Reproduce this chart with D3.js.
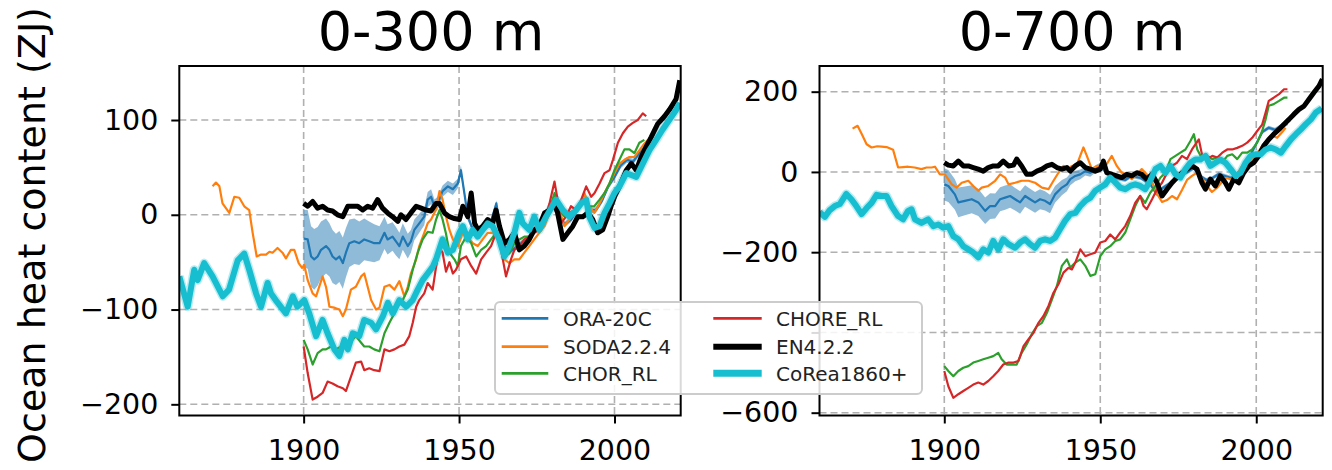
<!DOCTYPE html>
<html lang="en">
<head>
<meta charset="UTF-8">
<title>ocean heat content</title>
<script src="https://cdn.jsdelivr.net/npm/d3@7/dist/d3.min.js"></script>
<style>
  body { margin: 0; background: #fff; }
  text { font-family: "DejaVu Sans", sans-serif; }
</style>
</head>
<body>
<svg width="1332" height="470" id="mainsvg"></svg>
<script>
// ---- data (year, ZJ) ----
const seriesNames = ['ORA-20C', 'SODA2.2.4', 'CHOR_RL', 'CHORE_RL', 'EN4.2.2', 'CoRea1860+'];
const titles = ['0-300 m', '0-700 m'];
const xTicks = [1900, 1950, 2000];
const yTicks300 = [-200, -100, 0, 100];
const yTicks700 = [-600, -400, -200, 0, 200];
const hiddenTicks700 = [-400]; // label sits under the legend in the reference

// 0-300 m
// ORA-20C: [year, value, half spread]
const ora300 = [[1900,-25,30],[1901.3,-26,31],[1902.4,-44,32],[1903.4,-47,32],[1904.5,-44,31],[1905.6,-37,30],[1907.2,-33,29],[1908.3,-37,28],[1909.3,-44,28],[1910.4,-47,27],[1911.5,-44,27],[1912.6,-51,27],[1913.6,-40,26],[1914.7,-30,25],[1916.3,-28,24],[1917.9,-30,23],[1919.5,-26,22],[1921.1,-28,21],[1922.7,-30,20],[1924.4,-30,18],[1926,-19,17],[1927,-26,16],[1928.6,-23,15],[1929.7,-28,15],[1930.8,-33,14],[1931.9,-23,14],[1933.5,-33,13],[1934.5,-28,12],[1935.6,-16,11],[1937.2,-9,10],[1938.8,-2,9],[1939.9,16,8],[1941,19,8],[1942.1,9,7],[1943.1,12,7],[1944.7,25,6],[1946.4,30,6],[1948,27,6],[1949.6,33,5],[1950.6,47,5],[1951.7,23,4],[1952.8,-2,4],[1955,-20,3],[1958,-15,3],[1960,-10,3],[1962,12,3],[1964,-30,3],[1966,-40,3],[1968,-35,3],[1970,-30,3],[1972,-25,3],[1975,-15,3],[1978,-5,3],[1980,10,3],[1982,0,3],[1984,-10,3],[1986,-5,3],[1988,5,3],[1990,15,3],[1992,5,3],[1994,5,3],[1996,15,3],[1998,30,3],[2000,40,3],[2002,52,3],[2004,58,3],[2006,56,3],[2008,65,3],[2010,72,3]];
const soda300 = [[1870.7,30],[1871.8,34],[1872.9,30],[1873.9,12],[1876.1,2],[1877.7,19],[1879.3,18],[1880.9,9],[1882.5,5],[1883.6,-19],[1884.9,-44],[1886.3,-42],[1887.9,-42],[1889,-39],[1890,-40],[1891.6,-35],[1893.2,-40],[1894.3,-46],[1895.9,-37],[1897,-37],[1898.4,-51],[1899.5,-56],[1900.2,-53],[1901.3,-69],[1902.9,-83],[1904,-86],[1905,-76],[1906.1,-65],[1907.2,-76],[1908.3,-97],[1909.9,-98],[1911.5,-100],[1912.6,-107],[1913.6,-100],[1915.2,-79],[1916.8,-76],[1918.5,-65],[1919.5,-62],[1920.6,-76],[1921.7,-90],[1923.3,-100],[1924.4,-98],[1926,-76],[1927.6,-74],[1929.2,-79],[1930.8,-70],[1932.4,-86],[1933.5,-76],[1934.5,-62],[1936.2,-47],[1937.2,-33],[1938.8,-19],[1939.9,-9],[1941,-5],[1942.5,5],[1943.7,25],[1944.7,16],[1945.8,-2],[1946.9,-16],[1948,-26],[1949.6,-33],[1951.2,-19],[1952.8,-23],[1954.4,-30],[1956,-33],[1957.6,-26],[1959.2,-19],[1960.8,-19],[1962.9,-26],[1964.6,-47],[1966.2,-51],[1967.8,-47],[1969.4,-47],[1971,-40],[1972.6,-33],[1974.2,-26],[1975.8,-19],[1977.5,-12],[1979.1,2],[1980.7,16],[1982.3,5],[1983.9,-12],[1985.5,-5],[1987.1,2],[1988.7,9],[1990.3,23],[1991.9,9],[1993.5,2],[1995.2,12],[1996.8,23],[1998.4,33],[2000,44],[2001.6,54],[2003.2,58],[2004.8,61],[2006.4,61],[2008,68],[2009.6,75],[2010.7,79]];
const chor300 = [[1900,-132],[1901.3,-142],[1902.9,-158],[1904.5,-146],[1906.1,-142],[1907.2,-142],[1908.8,-139],[1910.4,-142],[1912,-139],[1913.6,-135],[1915.2,-134],[1916.8,-128],[1918.5,-135],[1919.5,-139],[1921.1,-139],[1922.7,-142],[1924.4,-144],[1926,-125],[1927.6,-114],[1929.2,-104],[1930.8,-93],[1931.9,-90],[1933.5,-79],[1935.1,-58],[1936.7,-40],[1938.3,-26],[1939.9,-18],[1941.5,-19],[1942.6,-5],[1943.7,5],[1944.7,-5],[1945.8,-20],[1946.9,-40],[1948.5,-47],[1949.6,-54],[1950.6,-33],[1952.3,-23],[1953.9,-30],[1955.5,-44],[1957.1,-37],[1958.7,-33],[1960.3,-26],[1961.9,-19],[1963.5,-33],[1965.1,-44],[1966.2,-40],[1967.8,-30],[1969.4,-26],[1971,-23],[1972.6,-23],[1974.2,-16],[1975.8,-12],[1977.5,-2],[1979.1,5],[1980.7,23],[1982.3,5],[1983.9,-2],[1985.5,2],[1987.1,5],[1988.7,12],[1990.3,16],[1991.9,9],[1993.5,9],[1995.2,16],[1996.8,23],[1998.4,33],[2000,47],[2001.6,58],[2003.2,69],[2004.8,69],[2006.4,65],[2008,76],[2009.6,79]];
const chore300 = [[1900,-139],[1901.3,-167],[1902.9,-195],[1904.5,-192],[1906.1,-188],[1907.7,-176],[1909.3,-178],[1910.9,-181],[1912.6,-183],[1913.6,-186],[1915.2,-171],[1916.8,-156],[1918.5,-155],[1919.5,-164],[1921.1,-162],[1922.7,-164],[1924.4,-165],[1926,-142],[1927.6,-144],[1929.2,-142],[1930.8,-139],[1932.4,-137],[1934,-128],[1935.1,-114],[1936.2,-97],[1937.2,-90],[1938.8,-83],[1939.9,-72],[1941.5,-79],[1942.6,-55],[1943.7,-35],[1944.7,-40],[1945.8,-60],[1946.9,-50],[1948,-62],[1949,-58],[1950.6,-47],[1952.3,-44],[1953.9,-54],[1955.5,-62],[1957.1,-47],[1958.7,-40],[1960.3,-33],[1961.9,-19],[1963.5,-37],[1965.1,-65],[1966.7,-47],[1967.8,-37],[1969.4,-33],[1971,-26],[1972.6,-23],[1974.2,-19],[1975.8,-16],[1977.5,-5],[1979.1,12],[1980.7,35],[1981.7,16],[1982.8,-9],[1984.4,-2],[1986,9],[1987.7,5],[1989.3,16],[1990.9,30],[1992.5,19],[1993.6,23],[1995.2,33],[1996.8,44],[1998.4,47],[1999.5,58],[2001.1,76],[2002.7,86],[2004.3,93],[2005.9,97],[2007.5,100],[2009.1,107],[2010.2,104]];
const en4300 = [[1900,12],[1901.3,9],[1902.9,14],[1904.5,7],[1906.1,9],[1907.7,5],[1909.3,4],[1910.9,0],[1912.6,-2],[1914.2,9],[1915.8,9],[1917.4,9],[1919,5],[1920.6,9],[1922.2,7],[1923.8,16],[1925.4,7],[1927,2],[1928.6,-2],[1930.3,-7],[1931.3,0],[1932.9,-5],[1934.5,2],[1936.2,9],[1937.8,7],[1939.4,5],[1941,4],[1942.6,12],[1943.7,12],[1945.3,2],[1946.9,-2],[1948.5,-4],[1950.1,-5],[1951.2,9],[1952.8,-2],[1953.9,23],[1955,-9],[1956.1,-16],[1957.6,-12],[1959.2,-5],[1960.8,-9],[1961.9,5],[1963,-12],[1964.6,-30],[1966.2,-26],[1967.8,-19],[1969.4,-37],[1971,-33],[1972.6,-26],[1974.2,-16],[1975.8,-12],[1977.5,2],[1979.1,5],[1980.7,12],[1981.7,2],[1983.4,-26],[1985,-19],[1986.6,-12],[1988.2,-2],[1989.8,-2],[1991.4,2],[1993,-5],[1994.6,-19],[1996.2,-16],[1997.8,-2],[1998.9,9],[2000,19],[2001.6,30],[2003.8,47],[2005.4,54],[2007,47],[2008.6,61],[2010.2,72],[2011.8,82],[2013.9,96],[2016.1,104],[2017.7,111],[2019.8,122],[2021,142]];
const corea300 = [[1860,-65],[1862.7,-97],[1864.8,-58],[1865.9,-69],[1868,-51],[1870.7,-65],[1874,-86],[1876,-79],[1878.8,-48],[1880.9,-41],[1882.5,-58],[1884.7,-83],[1886.3,-97],[1888.4,-72],[1889.5,-83],[1891,-90],[1894.3,-104],[1896.5,-86],[1898,-97],[1900.2,-90],[1901.8,-104],[1904,-128],[1906.1,-111],[1907.7,-125],[1909.9,-142],[1911.5,-149],[1913.1,-132],[1914.2,-142],[1915.8,-125],[1917.9,-128],[1919.5,-111],[1921.7,-114],[1923.3,-121],[1925.5,-107],[1927.1,-93],[1928.7,-104],[1930.8,-90],[1933,-97],[1935.1,-90],[1936.7,-79],[1938.3,-69],[1939.9,-62],[1941.5,-55],[1942.6,-47],[1944.7,-26],[1946.4,-40],[1948,-37],[1950.1,-19],[1951.2,-12],[1952.8,-26],[1954.4,-16],[1956,-23],[1957.6,-16],[1959.2,-9],[1960.8,-12],[1962.9,-26],[1964.6,-44],[1966.2,-33],[1967.8,-19],[1969.4,2],[1970.5,-9],[1972.6,-16],[1974.2,-2],[1975.8,-16],[1978,-2],[1979.6,7],[1981.2,16],[1983.4,5],[1985.5,-2],[1987.7,5],[1989.3,12],[1990.9,16],[1991.9,-2],[1993.6,-14],[1995.2,-12],[1996.8,2],[1998.4,12],[2000,23],[2001.6,30],[2003.8,44],[2005.4,42],[2007,40],[2009.1,54],[2011.2,68],[2013.4,79],[2015.5,90],[2017.6,100],[2019.7,110],[2021,118]];

// 0-700 m
const ora700 = [[1900,-31,40],[1901.3,-35,40],[1903.4,-56,38],[1904.5,-76,37],[1906.6,-72,36],[1908.8,-68,35],[1910.9,-76,34],[1913.1,-97,33],[1914.7,-85,32],[1916.3,-85,31],[1917.9,-68,30],[1919.5,-64,30],[1921.1,-60,29],[1922.7,-68,28],[1924.3,-76,28],[1925.9,-60,27],[1927.5,-68,26],[1929.1,-76,26],[1930.7,-68,25],[1932.3,-72,24],[1933.9,-80,23],[1935.5,-56,21],[1937.7,-39,19],[1939.3,-31,17],[1940.4,-18,15],[1942,-10,13],[1943.6,-6,12],[1945.2,2,11],[1946.8,-2,10],[1948.4,7,9],[1950,15,8],[1952,0,6],[1955,-15,5],[1958,-20,5],[1960,-10,5],[1963,-15,5],[1966,-30,5],[1968,-55,5],[1970,-40,5],[1972,-30,5],[1975,-10,5],[1978,0,5],[1980,10,5],[1982,-10,5],[1984,-20,5],[1986,-15,5],[1988,-5,5],[1990,-10,5],[1992,-15,5],[1994,-5,5],[1996,15,5],[1998,40,5],[2000,70,5],[2002,100,5],[2004,110,5],[2006,105,5],[2008,115,5],[2010,120,5]];
const soda700 = [[1870.6,108],[1872.2,115],[1873.5,95],[1875.1,69],[1876.7,61],[1878.5,64],[1879.9,63],[1881.5,62],[1883.6,55],[1885.2,11],[1886.8,12],[1888.4,13],[1890.5,11],[1892.7,7],[1894.3,11],[1895.9,11],[1897,13],[1898.6,-6],[1900.2,-6],[1902.4,-31],[1904,-39],[1905.6,-27],[1907.7,-22],[1909.3,-35],[1910.9,-47],[1912,-39],[1914.1,-35],[1916.3,-22],[1917.9,-6],[1919.5,-14],[1920.6,-31],[1922.7,-27],[1924.8,-22],[1927,-22],[1929.1,-27],[1931.3,-39],[1933.4,-43],[1935,-22],[1936.6,-2],[1938.2,15],[1939.8,7],[1940.9,15],[1942.6,20],[1944.6,61],[1945.7,40],[1947.3,7],[1948.9,15],[1950.5,15],[1952.1,20],[1953.7,40],[1955.3,15],[1956.9,-2],[1958.5,-6],[1960.1,-18],[1961.7,-6],[1963.3,7],[1964.9,-6],[1966.6,-25],[1968.2,-55],[1969.8,-75],[1971.4,-70],[1973,-60],[1974.6,-68],[1976.2,-45],[1977.8,-20],[1979.4,-10],[1981,-2],[1982.6,-15],[1984.2,-35],[1985.8,-50],[1987.4,-40],[1989,-25],[1990.6,-15],[1992.2,-20],[1993.9,-5],[1995.5,15],[1997.1,25],[1998.7,30],[2000.3,45],[2001.9,65],[2003.5,80],[2005.1,90],[2006.7,85],[2008.4,100],[2009.4,110]];
const chor700 = [[1900,-484],[1901.3,-496],[1902.9,-509],[1904.5,-496],[1906.1,-488],[1907.7,-484],[1909.3,-475],[1910.9,-471],[1912.5,-467],[1914.1,-463],[1915.7,-459],[1917.3,-451],[1918.4,-467],[1920,-480],[1921.6,-480],[1923.2,-480],[1924.8,-451],[1926.4,-430],[1928,-405],[1929.7,-384],[1931.3,-376],[1932.9,-351],[1934.5,-318],[1936.1,-284],[1937.7,-234],[1939.3,-218],[1940.4,-238],[1942,-226],[1943.6,-218],[1945.2,-234],[1946.8,-259],[1948.4,-255],[1950,-210],[1951.6,-193],[1953.2,-185],[1954.8,-172],[1956.4,-168],[1958,-151],[1959.6,-118],[1961.2,-85],[1962.8,-60],[1964.4,-77],[1966,-52],[1967.7,-35],[1969.3,-14],[1970.9,-2],[1972.5,32],[1974.1,40],[1975.7,48],[1977.3,56],[1978.9,77],[1980,94],[1981.1,56],[1982.7,32],[1984.3,40],[1985.9,32],[1987.5,36],[1989.1,23],[1990.7,40],[1992.3,44],[1993.9,32],[1995.5,48],[1997.1,48],[1998.7,56],[2000.3,73],[2001.9,102],[2003,131],[2004,165],[2005.6,169],[2007.3,177],[2008.9,185],[2010,185]];
const chore700 = [[1900,-496],[1901.3,-534],[1902.9,-563],[1904.5,-554],[1906.1,-546],[1907.7,-538],[1909.3,-530],[1910.9,-525],[1912.5,-530],[1914.1,-521],[1915.7,-509],[1917.3,-496],[1918.9,-480],[1920.6,-475],[1922.2,-475],[1923.8,-471],[1925.4,-434],[1927,-417],[1928.6,-401],[1930.2,-376],[1931.8,-359],[1933.4,-334],[1935,-301],[1936.6,-280],[1938.2,-251],[1939.8,-239],[1940.9,-243],[1942,-226],[1943.6,-193],[1945.2,-210],[1946.8,-205],[1948.4,-201],[1950,-176],[1951.6,-172],[1953.2,-156],[1954.8,-168],[1956.4,-151],[1958,-135],[1959.6,-110],[1961.2,-77],[1962.8,-60],[1963.9,-85],[1964.9,-93],[1966.6,-68],[1968.2,-43],[1969.8,-27],[1971.4,-2],[1973,15],[1974.6,23],[1976.2,40],[1977.8,32],[1979.4,56],[1981.6,81],[1982.7,40],[1984.3,32],[1985.9,40],[1987.5,36],[1989.1,48],[1990.7,56],[1992.3,56],[1993.9,60],[1995.5,65],[1997.1,73],[1998.7,85],[2000.3,102],[2001.9,118],[2003,148],[2004,177],[2005.6,185],[2007.3,194],[2008.9,206],[2010,206]];
const en4700 = [[1900,23],[1901.3,17],[1902.9,15],[1904.5,27],[1906.1,15],[1907.7,15],[1909.3,11],[1910.9,7],[1912.5,2],[1914.1,11],[1915.7,15],[1917.3,15],[1918.9,27],[1920.6,15],[1922.2,17],[1923.2,32],[1924.8,15],[1926.4,-6],[1928,-6],[1929.7,2],[1931.3,7],[1932.9,15],[1934.5,19],[1936.1,11],[1937.7,7],[1939.3,11],[1940.4,2],[1942,15],[1943.6,23],[1945.2,11],[1946.8,7],[1948.4,2],[1950,7],[1951,27],[1952.1,-2],[1953.7,-6],[1955.3,-10],[1956.9,-14],[1958.5,-6],[1960.1,-10],[1961.7,-2],[1963.3,-6],[1964.9,-18],[1966.6,-6],[1968.2,-27],[1969.8,-60],[1971.4,-43],[1973,-27],[1974.6,-14],[1976.2,-2],[1977.8,7],[1979.4,15],[1981,7],[1982.6,-27],[1983.7,-43],[1985.3,-18],[1986.9,-35],[1988.5,-10],[1990.1,-27],[1991.2,-43],[1992.8,-18],[1994.4,-27],[1996,-2],[1997.6,15],[1999.2,23],[2000.8,40],[2002.4,65],[2004,81],[2005.6,94],[2007.3,106],[2008.9,119],[2010.5,131],[2012.1,144],[2013.7,156],[2015.3,164],[2016.9,181],[2018.5,198],[2020.1,214],[2021.2,231]];
const corea700 = [[1860,-100],[1861.7,-112],[1863.3,-95],[1864.9,-85],[1866.5,-80],[1868.6,-55],[1870.2,-68],[1871.8,-85],[1873.5,-105],[1875.1,-90],[1876.7,-77],[1878.3,-57],[1879.9,-60],[1881.5,-60],[1883.1,-85],[1885.2,-110],[1886.8,-118],[1888.4,-97],[1889.5,-93],[1890.6,-118],[1892.7,-127],[1894.8,-118],[1896.5,-135],[1898.1,-131],[1899.7,-139],[1901.3,-135],[1902.9,-160],[1904.5,-168],[1906.1,-185],[1907.7,-193],[1909.3,-201],[1910.9,-213],[1912.5,-193],[1914.1,-201],[1915.7,-172],[1917.3,-193],[1918.9,-168],[1920.6,-180],[1922.7,-189],[1924.3,-176],[1925.9,-168],[1927.5,-180],[1929.1,-189],[1930.7,-172],[1932.3,-168],[1933.9,-172],[1935.5,-164],[1937.1,-143],[1938.7,-122],[1940.4,-105],[1942,-102],[1943.6,-85],[1945.2,-72],[1946.8,-64],[1948.4,-47],[1950,-39],[1951.6,-31],[1953.2,-14],[1954.8,-26],[1956.4,-39],[1958,-43],[1959.6,-35],[1961.2,-31],[1962.8,-35],[1964.4,-43],[1966,-22],[1967.7,7],[1969.3,15],[1970.9,-2],[1972.5,15],[1974.1,-6],[1975.7,-14],[1977.3,7],[1978.9,23],[1980.5,31],[1982.1,31],[1983.7,40],[1985.3,15],[1986.9,23],[1988.5,31],[1990.1,23],[1991.8,7],[1993.4,-10],[1995,-2],[1996.6,23],[1998.2,40],[1999.8,44],[2001.4,44],[2003,56],[2004.6,61],[2006.3,56],[2007.9,48],[2009.5,65],[2011.1,81],[2012.7,94],[2014.3,106],[2015.9,119],[2017.5,131],[2019.1,148],[2021,158]];

// ---- styles ----
const colors = ['#1f77b4', '#ff7f0e', '#2ca02c', '#d62728', '#000000', '#17becf'];
const widths = [2.2, 2.2, 2.2, 2.2, 5, 6];

const svg = d3.select('#mainsvg');
svg.append('rect').attr('width', 1332).attr('height', 470).attr('fill', '#fff');

const fmt = d => hiddenTicks700.includes(d) ? '' : (d < 0 ? '\u2212' + Math.abs(d) : String(d));

const panels = [
  { id: 'p300', left: 179.3, right: 680.7, yDomain: [-211.8, 157], yTicks: yTicks300,
    series: [ora300, soda300, chor300, chore300, en4300, corea300] },
  { id: 'p700', left: 819.5, right: 1322.7, yDomain: [-607, 264], yTicks: yTicks700,
    series: [ora700, soda700, chor700, chore700, en4700, corea700] }
];
const plotTop = 66, plotBottom = 415.5;

panels.forEach((p, pi) => {
  const x = d3.scaleLinear().domain([1860, 2021.3]).range([p.left, p.right]);
  const y = d3.scaleLinear().domain(p.yDomain).range([plotBottom, plotTop]);
  const g = svg.append('g');

  g.append('clipPath').attr('id', 'clip' + p.id)
    .append('rect').attr('x', p.left).attr('y', plotTop)
    .attr('width', p.right - p.left).attr('height', plotBottom - plotTop);

  // grid
  const grid = g.append('g').attr('stroke', '#b0b0b0').attr('stroke-width', 1.6)
    .attr('stroke-dasharray', '7,4');
  xTicks.forEach(t => grid.append('line')
    .attr('x1', x(t)).attr('x2', x(t)).attr('y1', plotTop).attr('y2', plotBottom));
  p.yTicks.forEach(t => grid.append('line')
    .attr('x1', p.left).attr('x2', p.right).attr('y1', y(t)).attr('y2', y(t)));

  const plot = g.append('g').attr('clip-path', `url(#clip${p.id})`);

  // ORA-20C spread
  const band = d3.area().x(d => x(d[0])).y0(d => y(d[1] - d[2])).y1(d => y(d[1] + d[2]));
  plot.append('path').datum(p.series[0]).attr('d', band)
    .attr('fill', colors[0]).attr('fill-opacity', 0.5);

  const line = d3.line().x(d => x(d[0])).y(d => y(d[1]));
  // faint halo for CoRea ensemble
  plot.append('path').datum(p.series[5]).attr('d', line).attr('fill', 'none')
    .attr('stroke', colors[5]).attr('stroke-opacity', 0.3).attr('stroke-width', 9)
    .attr('stroke-linejoin', 'round');
  p.series.forEach((s, i) => {
    plot.append('path').datum(s).attr('d', line).attr('fill', 'none')
      .attr('stroke', colors[i]).attr('stroke-width', widths[i])
      .attr('stroke-linejoin', 'round').attr('stroke-linecap', 'butt');
  });

  // axes
  const xAxis = d3.axisBottom(x).tickValues(xTicks).tickSize(8).tickPadding(16).tickFormat(d3.format('d'));
  const yAxis = d3.axisLeft(y).tickValues(p.yTicks).tickSize(8).tickPadding(13).tickFormat(fmt);
  const gx = g.append('g').attr('transform', `translate(0,${plotBottom})`).call(xAxis);
  const gy = g.append('g').attr('transform', `translate(${p.left},0)`).call(yAxis);
  [gx, gy].forEach(a => {
    a.select('.domain').remove();
    a.selectAll('.tick line').attr('stroke', '#000').attr('stroke-width', 2);
    a.selectAll('.tick text').attr('font-size', '28.5px').attr('fill', '#000')
      .attr('font-family', '"DejaVu Sans", sans-serif');
  });

  // frame
  g.append('rect').attr('x', p.left).attr('y', plotTop)
    .attr('width', p.right - p.left).attr('height', plotBottom - plotTop)
    .attr('fill', 'none').attr('stroke', '#000').attr('stroke-width', 2);

  g.append('text').text(titles[pi])
    .attr('x', (p.left + p.right) / 2 + 1).attr('y', 50)
    .attr('text-anchor', 'middle').attr('font-size', '54px').attr('fill', '#000');
});

svg.append('text').text('Ocean heat content (ZJ)')
  .attr('transform', 'translate(45,235) rotate(-90)')
  .attr('text-anchor', 'middle').attr('font-size', '38px').attr('fill', '#000');

// legend
const lg = svg.append('g');
lg.append('rect').attr('x', 495).attr('y', 302).attr('width', 427).attr('height', 92)
  .attr('rx', 5).attr('fill', '#fff').attr('fill-opacity', 0.85)
  .attr('stroke', '#cccccc').attr('stroke-width', 2);
const rowY = [318.3, 346.7, 373.3];
const colX = [[501.7, 548.3, 563], [713.3, 761.7, 776]];
seriesNames.forEach((name, i) => {
  const c = colX[Math.floor(i / 3)], ry = rowY[i % 3];
  lg.append('line').attr('x1', c[0]).attr('x2', c[1]).attr('y1', ry).attr('y2', ry)
    .attr('stroke', colors[i]).attr('stroke-width', widths[i] + (i >= 4 ? 1 : 0.5));
  lg.append('text').text(name).attr('x', c[2]).attr('y', ry + 7.3)
    .attr('font-size', '20px').attr('fill', '#222');
});
</script>
</body>
</html>
